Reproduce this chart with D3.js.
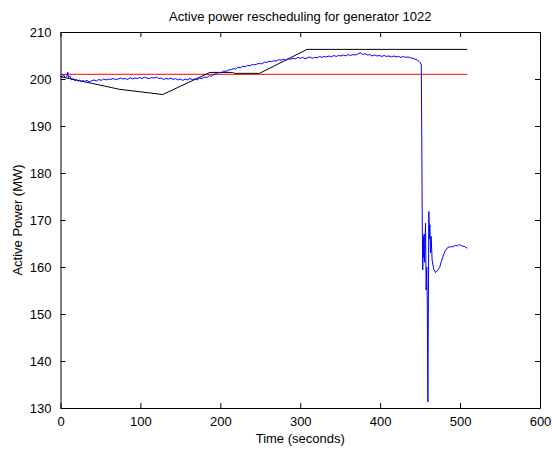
<!DOCTYPE html>
<html>
<head>
<meta charset="utf-8">
<script src="https://cdn.jsdelivr.net/npm/d3@7"></script>
<style>
  body { margin: 0; background: #fff; }
  text { font-family: "Liberation Sans", Arial, sans-serif; fill: #000; }
</style>
</head>
<body>
<div id="chart"></div>
<script>
// tick labels
var xTicks = [0, 100, 200, 300, 400, 500, 600];
var yTicks = [130, 140, 150, 160, 170, 180, 190, 200, 210];

// red: reference setpoint
var refLine = [[0, 201.0], [509, 201.0]];

// black: scheduled power
var schedule = [[0, 200.5], [74, 197.8], [128, 196.7], [187, 201.4], [215, 201.4],
  [218, 201.2], [249, 201.2], [308.5, 206.3], [509, 206.3]];

// blue: measured power
var measured = [[0,200.7],[2,200.4],[4,200.9],[6,200.2],[8,200.6],[9,201.5],[10,200.3],[12,200.6],
  [14,199.8],[16,200.1],[18,199.6],[20,199.9],[22,199.5],[24,199.8],[26,199.4],[28,199.7],[30,199.5],
  [33,199.7],[36,199.4],[39,199.6],[42,199.8],[45,199.6],[48,199.9],[51,199.7],[54,200.0],[57,199.8],
  [60,200.0],[63,199.9],[66,200.1],[69,199.9],[72,200.0],[75,200.2],[78,200.0],[81,200.1],[84,199.9],
  [87,200.3],[90,200.0],[93,200.2],[96,200.1],[99,200.3],[102,200.1],[105,200.4],[108,200.2],[111,200.1],
  [114,200.3],[117,200.2],[120,200.4],[123,200.1],[126,200.2],[129,199.9],[132,200.1],[135,200.0],
  [138,200.2],[141,199.9],[144,200.1],[147,199.8],[150,200.0],[153,199.7],[156,200.0],[159,199.8],
  [162,200.1],[165,199.9],[168,200.0],[171,199.8],[174,200.2],[177,200.1],[180,200.4],[183,200.3],
  [186,200.7],[189,200.6],[192,201.0],[195,201.1],[198,201.4],[201,201.3],[204,201.7],[207,201.6],
  [210,201.9],[213,202.0],[216,202.2],[219,202.1],[222,202.5],[225,202.4],[228,202.7],[231,202.6],
  [234,202.9],[237,202.8],[240,203.1],[243,203.0],[246,203.2],[249,203.3],[252,203.2],[255,203.6],
  [258,203.5],[261,203.8],[264,203.7],[267,203.9],[270,203.8],[273,204.1],[276,204.0],[279,204.2],
  [282,204.0],[285,204.3],[288,204.2],[291,204.4],[294,204.3],[297,204.6],[300,204.4],[303,204.6],
  [306,204.3],[309,204.5],[312,204.7],[315,204.4],[318,204.6],[321,204.5],[324,204.8],[327,204.6],
  [330,204.8],[333,204.7],[336,204.9],[339,204.7],[342,205.0],[345,204.8],[348,205.0],[351,204.9],
  [354,205.1],[357,204.9],[360,205.2],[363,205.0],[366,205.2],[369,205.1],[372,205.3],[375,205.6],
  [378,205.2],[381,205.4],[384,205.1],[387,205.2],[390,204.9],[393,205.1],[396,204.9],[399,205.0],
  [402,204.8],[405,205.0],[408,204.8],[411,204.9],[414,204.7],[417,204.9],[420,204.7],[423,204.8],
  [426,204.6],[429,204.8],[432,204.6],[435,204.7],[438,204.5],[441,204.4],[444,204.2],[447,204.0],
  [449,203.7],[450,203.5],[451.5,203.0],[452.7,168.6],[453.3,159.4],[454,166.4],[454.5,162],[455,167],
  [455.5,161],[456.2,165],[456.8,169.3],[457.5,155.1],[458.3,160],[459,152],[459.7,131.3],[460.9,171.8],
  [461.5,166],[462.2,169],[463,163],[463.8,166.5],[465,161.5],[467,159.5],[469.2,158.8],[472,159.3],
  [474.4,159.9],[476.5,161.2],[478.5,162.2],[481,163.3],[484.8,164.2],[488,164.3],[491,164.3],
  [494,164.6],[497,164.5],[499,164.8],[502,164.5],[505,164.4],[507,164.2],[509,164.0]];

var W = 552, H = 450;
var margin = {top: 32, right: 12, bottom: 42, left: 60.5};

var svg = d3.select("#chart").append("svg")
  .attr("width", W).attr("height", H);

var x = d3.scaleLinear().domain([0, 600]).range([margin.left, W - margin.right]);
var y = d3.scaleLinear().domain([130, 210]).range([H - margin.bottom, margin.top]);

var line = d3.line()
  .x(function (d) { return x(d[0]); })
  .y(function (d) { return y(d[1]); });

// plot lines
svg.append("path").datum(refLine).attr("d", line)
  .attr("fill", "none").attr("stroke", "#ff0000").attr("stroke-width", 1);
svg.append("path").datum(schedule).attr("d", line)
  .attr("fill", "none").attr("stroke", "#000").attr("stroke-width", 1);
svg.append("path").datum(measured).attr("d", line)
  .attr("fill", "none").attr("stroke", "#0000ff").attr("stroke-width", 1);

// axes, MATLAB style: ticks inward on all four sides
var tl = 5;
svg.append("g").attr("transform", "translate(0," + y(130) + ")")
  .call(d3.axisBottom(x).tickValues(xTicks).tickSize(-tl).tickPadding(tl + 4).tickSizeOuter(0))
  .call(styleAxis);
svg.append("g").attr("transform", "translate(0," + y(210) + ")")
  .call(d3.axisTop(x).tickValues(xTicks).tickSize(-tl).tickFormat("").tickSizeOuter(0))
  .call(styleAxis);
svg.append("g").attr("transform", "translate(" + x(0) + ",0)")
  .call(d3.axisLeft(y).tickValues(yTicks).tickSize(-tl).tickPadding(tl + 4).tickSizeOuter(0))
  .call(styleAxis);
svg.append("g").attr("transform", "translate(" + x(600) + ",0)")
  .call(d3.axisRight(y).tickValues(yTicks).tickSize(-tl).tickFormat("").tickSizeOuter(0))
  .call(styleAxis);

function styleAxis(g) {
  g.select(".domain").attr("stroke", "#000");
  g.selectAll(".tick line").attr("stroke", "#000");
  g.selectAll(".tick text").attr("font-size", 13).attr("font-family", "Liberation Sans, Arial, sans-serif");
}

// title and labels
svg.append("text").attr("x", x(300)).attr("y", 21)
  .attr("text-anchor", "middle").attr("font-size", 13)
  .text("Active power rescheduling for generator 1022");
svg.append("text").attr("x", x(300)).attr("y", 443)
  .attr("text-anchor", "middle").attr("font-size", 13)
  .text("Time (seconds)");
svg.append("text")
  .attr("transform", "translate(22," + y(170) + ") rotate(-90)")
  .attr("text-anchor", "middle").attr("font-size", 13)
  .text("Active Power (MW)");
</script>
</body>
</html>
